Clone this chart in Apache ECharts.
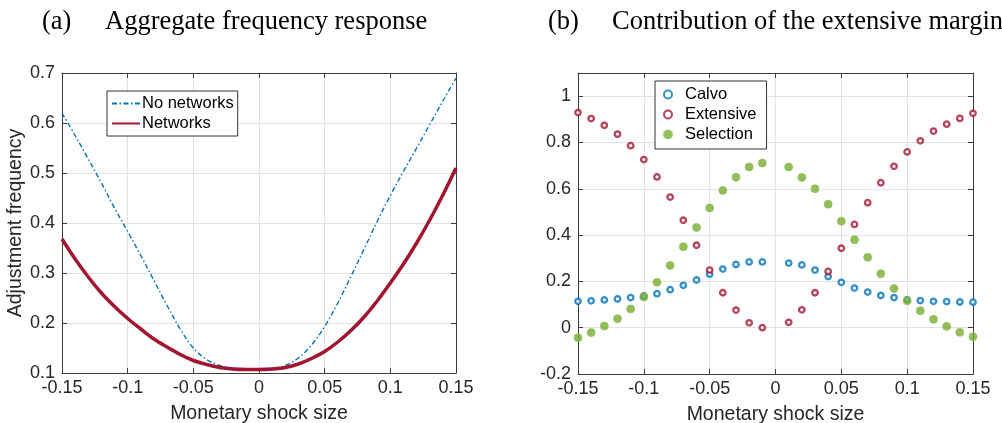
<!DOCTYPE html>
<html>
<head>
<meta charset="utf-8">
<script src="https://cdn.jsdelivr.net/npm/echarts@6/dist/echarts.min.js"></script>
<style>
  html, body { margin: 0; padding: 0; background: #fff; }
  #main { width: 1002px; height: 423px; }
</style>
</head>
<body>
<div id="main"></div>
<script>
// panel (a): aggregate frequency response
var shockA = [-0.15, -0.14, -0.13, -0.12, -0.11, -0.10, -0.09, -0.08, -0.07, -0.06, -0.05, -0.04, -0.03, -0.02, -0.01, 0,
              0.01, 0.02, 0.03, 0.04, 0.05, 0.06, 0.07, 0.08, 0.09, 0.10, 0.11, 0.12, 0.13, 0.14, 0.15];
var noNetworks = [0.62, 0.575, 0.528, 0.48, 0.43, 0.383, 0.335, 0.285, 0.235, 0.188, 0.15, 0.127, 0.115, 0.110, 0.107, 0.106,
                  0.108, 0.115, 0.13, 0.156, 0.193, 0.24, 0.293, 0.348, 0.403, 0.455, 0.503, 0.55, 0.597, 0.644, 0.69];
var networks = [0.368, 0.328, 0.292, 0.26, 0.233, 0.209, 0.188, 0.168, 0.152, 0.137, 0.125, 0.117, 0.111, 0.108, 0.107, 0.107,
                0.108, 0.111, 0.118, 0.129, 0.143, 0.162, 0.185, 0.212, 0.244, 0.28, 0.318, 0.36, 0.406, 0.456, 0.51];

// panel (b): contribution of the extensive margin
var shockB = [-0.15, -0.14, -0.13, -0.12, -0.11, -0.10, -0.09, -0.08, -0.07, -0.06, -0.05, -0.04, -0.03, -0.02, -0.01,
              0.01, 0.02, 0.03, 0.04, 0.05, 0.06, 0.07, 0.08, 0.09, 0.10, 0.11, 0.12, 0.13, 0.14, 0.15];
var calvo = [0.114, 0.116, 0.12, 0.124, 0.13, 0.137, 0.147, 0.164, 0.183, 0.206, 0.231, 0.253, 0.273, 0.284, 0.284,
             0.279, 0.271, 0.249, 0.221, 0.196, 0.171, 0.154, 0.139, 0.13, 0.121, 0.117, 0.114, 0.113, 0.111, 0.11];
var extensive = [0.929, 0.903, 0.874, 0.836, 0.786, 0.726, 0.651, 0.564, 0.464, 0.356, 0.249, 0.151, 0.076, 0.021, 0.0,
                 0.023, 0.077, 0.151, 0.243, 0.343, 0.446, 0.54, 0.626, 0.697, 0.759, 0.807, 0.849, 0.879, 0.904, 0.926];
var selection = [-0.043, -0.021, 0.007, 0.039, 0.081, 0.133, 0.196, 0.269, 0.35, 0.433, 0.517, 0.593, 0.65, 0.694, 0.711,
                 0.694, 0.649, 0.6, 0.533, 0.46, 0.38, 0.304, 0.233, 0.169, 0.116, 0.073, 0.036, 0.006, -0.02, -0.039];

var BLUE = '#0072BD', RED = '#A2142F', GREEN = '#77AC30';
var SANS = 'Liberation Sans', SERIF = 'Liberation Serif';
var AXC = '#3c3c3c';

function pairs(xs, ys) {
    return xs.map(function (x, i) { return [x, ys[i]]; });
}
function fmt(v) {
    return String(parseFloat(v.toFixed(3)));
}

var myChart = echarts.init(document.getElementById('main'));

function xAx(grid, top, min, max, itv) {
    return {
        type: 'value', gridIndex: grid, position: top ? 'top' : 'bottom',
        min: min, max: max, interval: itv,
        name: top ? '' : 'Monetary shock size',
        nameLocation: 'middle', nameGap: 31,
        nameTextStyle: { fontFamily: SANS, fontSize: 19.5, color: '#262626' },
        axisLine: { show: true, onZero: false, lineStyle: { color: AXC, width: 1 } },
        axisTick: { show: true, inside: true, length: 5, lineStyle: { color: AXC } },
        axisLabel: { show: !top, margin: 6, fontFamily: SANS, fontSize: 18, color: '#262626', formatter: fmt },
        splitLine: { show: !top, lineStyle: { color: '#e3e3e3', width: 1 } }
    };
}
function yAx(grid, right, min, max, itv, name, hideAbove) {
    return {
        type: 'value', gridIndex: grid, position: right ? 'right' : 'left',
        min: min, max: max, interval: itv,
        name: right ? '' : name,
        nameLocation: 'middle', nameGap: 28,
        nameTextStyle: { fontFamily: SANS, fontSize: 19.5, color: '#262626' },
        axisLine: { show: true, onZero: false, lineStyle: { color: AXC, width: 1 } },
        axisTick: { show: true, inside: true, length: 5, lineStyle: { color: AXC } },
        axisLabel: {
            show: !right, margin: 7, fontFamily: SANS, fontSize: 18, color: '#262626',
            formatter: function (v) { return (hideAbove !== undefined && v > hideAbove) ? '' : fmt(v); }
        },
        splitLine: { show: !right, lineStyle: { color: '#e3e3e3', width: 1 } }
    };
}

var titleStyle = { fontFamily: SERIF, fontSize: 26.5, fontWeight: 'normal', color: '#000' };

option = {
    animation: false,
    backgroundColor: '#fff',
    title: [
        { text: '(a)', left: 42, top: 9, padding: 0, textStyle: titleStyle },
        { text: 'Aggregate frequency response', left: 105, top: 9, padding: 0, textStyle: titleStyle },
        { text: '(b)', left: 548, top: 9, padding: 0, textStyle: titleStyle },
        { text: 'Contribution of the extensive margin', left: 612, top: 9, padding: 0, textStyle: titleStyle }
    ],
    grid: [
        { left: 62, top: 73, width: 394, height: 300, outerBoundsMode: 'none' },
        { left: 578, top: 73, width: 395, height: 301, outerBoundsMode: 'none' }
    ],
    legend: [
        {
            data: ['No networks', 'Networks'],
            orient: 'vertical', left: 107, top: 91,
            padding: [4, 4, 4, 4], itemGap: 3,
            itemWidth: 28, itemHeight: 14,
            itemStyle: { opacity: 0 },
            backgroundColor: '#fff', borderColor: '#333', borderWidth: 1,
            textStyle: { fontFamily: SANS, fontSize: 16.5, color: '#000', padding: [0, 0, 0, -3] }
        },
        {
            data: ['Calvo', 'Extensive', 'Selection'],
            orient: 'vertical', left: 655, top: 81,
            padding: [5, 10, 6, 8], itemGap: 3,
            itemWidth: 14, itemHeight: 8,
            backgroundColor: '#fff', borderColor: '#333', borderWidth: 1,
            textStyle: { fontFamily: SANS, fontSize: 16.5, color: '#000', padding: [0, 0, 0, 5] }
        }
    ],
    xAxis: [
        xAx(0, false, -0.15, 0.15, 0.05),
        xAx(0, true, -0.15, 0.15, 0.05),
        xAx(1, false, -0.15, 0.15, 0.05),
        xAx(1, true, -0.15, 0.15, 0.05)
    ],
    yAxis: [
        yAx(0, false, 0.1, 0.7, 0.1, 'Adjustment frequency'),
        yAx(0, true, 0.1, 0.7, 0.1),
        yAx(1, false, -0.2, 1.1, 0.2, '', 1.05),
        yAx(1, true, -0.2, 1.1, 0.2, '', 1.05)
    ],
    series: [
        {
            name: 'No networks', type: 'line', xAxisIndex: 0, yAxisIndex: 0,
            data: pairs(shockA, noNetworks), smooth: 0.35, symbol: 'none',
            lineStyle: { color: BLUE, width: 1.4, type: [5, 2.5, 1.5, 2.5] },
            itemStyle: { color: BLUE }
        },
        {
            name: 'Networks', type: 'line', xAxisIndex: 0, yAxisIndex: 0,
            data: pairs(shockA, networks), smooth: 0.35, symbol: 'none',
            lineStyle: { color: RED, width: 3.5 },
            itemStyle: { color: RED }
        },
        {
            name: 'Calvo', type: 'scatter', xAxisIndex: 2, yAxisIndex: 2,
            data: pairs(shockB, calvo), symbol: 'circle', symbolSize: 5.5,
            itemStyle: { color: '#fff', borderColor: BLUE, borderWidth: 2.3 }
        },
        {
            name: 'Extensive', type: 'scatter', xAxisIndex: 2, yAxisIndex: 2,
            data: pairs(shockB, extensive), symbol: 'circle', symbolSize: 5.5,
            itemStyle: { color: '#fff', borderColor: RED, borderWidth: 2.3 }
        },
        {
            name: 'Selection', type: 'scatter', xAxisIndex: 2, yAxisIndex: 2,
            data: pairs(shockB, selection), symbol: 'circle', symbolSize: 8,
            itemStyle: { color: GREEN, borderColor: '#93c25e', borderWidth: 1 }
        }
    ]
};
myChart.setOption(option);
</script>
</body>
</html>
